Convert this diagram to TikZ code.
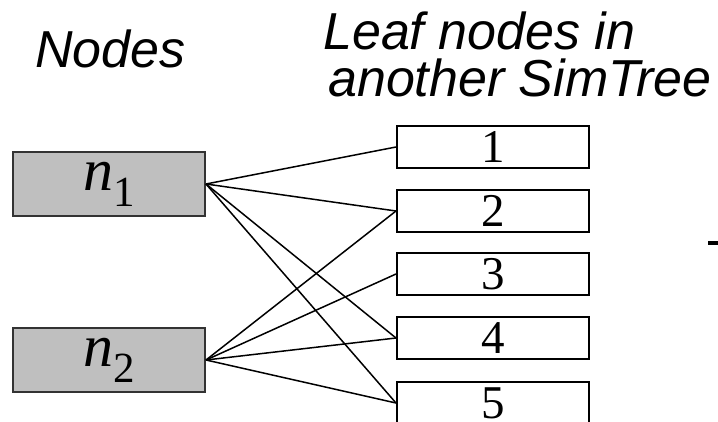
\documentclass[tikz,border=0pt]{standalone}
\usepackage{fontspec}
\setmainfont{Liberation Serif}
\newfontfamily\headfont{Liberation Sans}
\begin{document}
\begin{tikzpicture}[x=1pt,y=-1pt,
  headtext/.style={anchor=base west,inner sep=0pt,font=\headfont\itshape\fontsize{52}{60}\selectfont},
  nodebox/.style={draw=black!80,line width=2pt,fill=black!25,minimum width=192pt,minimum height=64pt,inner sep=0pt,font=\fontsize{60}{60}\selectfont},
  leafbox/.style={draw=black,line width=2pt,fill=white,minimum width=192pt,minimum height=42pt,inner sep=0pt,font=\fontsize{47}{47}\selectfont},
  link/.style={draw=black,line width=1.5pt}]
\useasboundingbox (0,0) rectangle (718,422);
\clip (0,0) rectangle (718,422);
\node[headtext] (hnodes) at (35,68) {Nodes};
\node[headtext] (hleaf1) at (323,50) {Leaf nodes in};
\node[headtext] (hleaf2) at (328,97) {another SimTree};
\node[nodebox] (n1) at (109,184) {\itshape n\raisebox{-16pt}{\upshape\fontsize{43}{43}\selectfont 1}};
\node[nodebox] (n2) at (109,360) {\itshape n\raisebox{-16pt}{\upshape\fontsize{43}{43}\selectfont 2}};
\foreach \i/\y in {1/147,2/211,3/274,4/338,5/403}{
  \node[leafbox] (l\i) at (493,\y) {\i};
}
\foreach \i in {1,2,4,5}{ \draw[link] (n1.east) -- (l\i.west); }
\foreach \i in {2,3,4,5}{ \draw[link] (n2.east) -- (l\i.west); }
\fill[black] (708,241) rectangle (718,245);
\end{tikzpicture}
\end{document}
